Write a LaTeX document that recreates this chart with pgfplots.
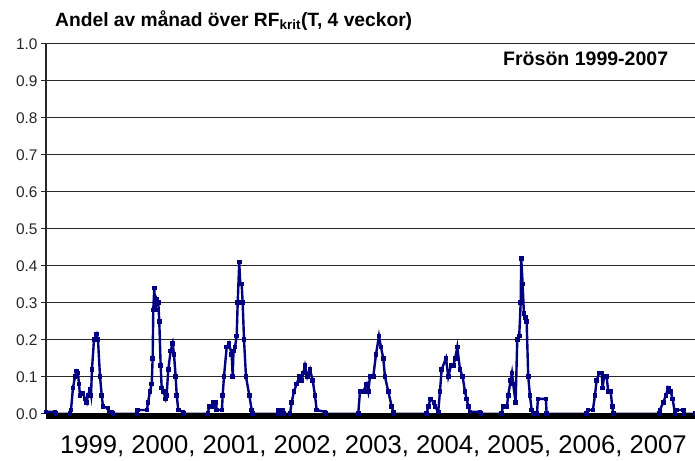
\documentclass[border=0pt]{standalone}
\usepackage{fontspec}
\setmainfont{Liberation Sans}
\usepackage{pgfplots}
\pgfplotsset{compat=1.18}
\definecolor{navyline}{RGB}{0,0,128}
\definecolor{gridgray}{RGB}{40,40,40}

\begin{document}
\begin{tikzpicture}
\begin{axis}[
    scale only axis,
    width=649bp, height=370bp,
    xmin=0, xmax=108,
    ymin=0, ymax=1,
    axis x line=none,
    axis y line*=left,
    y axis line style={gridgray, line width=1.3bp},
    ytick={0,0.1,0.2,0.3,0.4,0.5,0.6,0.7,0.8,0.9,1.0},
    ymajorgrids,
    major grid style={gridgray, line width=0.9bp},
    tick align=outside,
    major tick length=5bp,
    ytick style={gridgray, line width=0.9bp},
    yticklabel style={font=\fontsize{15.5}{18}\selectfont, text=black!85,
        /pgf/number format/fixed, /pgf/number format/fixed zerofill,
        /pgf/number format/precision=1},
    /pgf/number format/assume math mode=true,
    clip=false,
]
% share of month above RF_krit, x in months from Jan 1999
\addplot[navyline, line width=2.4bp, mark=square*, mark size=1.1bp,
    mark options={navyline}] coordinates {
    (0,0.005) (1.5,0.005) (1.66,0) (4.0,0) (4.16,0.01) (4.49,0.07) (4.83,0.10)
    (5.07,0.115) (5.32,0.11) (5.49,0.08) (5.66,0.05) (6.16,0.055) (6.49,0.04)
    (6.77,0.03) (6.99,0.05) (7.32,0.065) (7.49,0.05) (7.65,0.12) (7.99,0.20)
    (8.44,0.215) (8.65,0.20) (8.99,0.10) (9.27,0.05) (9.48,0.02) (10.32,0.015)
    (10.48,0.005) (10.98,0.005) (11.15,0)
    (15.14,0) (15.22,0.01) (16.8,0.01) (16.97,0.03) (17.3,0.06) (17.59,0.08)
    (17.75,0.15) (17.85,0.28) (18.02,0.34) (18.19,0.28) (18.42,0.31) (18.69,0.30)
    (18.85,0.25) (19.08,0.13) (19.25,0.07) (19.52,0.06) (19.92,0.04) (20.08,0.05)
    (20.35,0.12) (20.75,0.17) (21.08,0.19) (21.3,0.16) (21.58,0.10) (21.75,0.05)
    (22.01,0.01) (22.8,0.005) (22.96,0)
    (26.96,0) (27.12,0.02) (27.79,0.02) (27.87,0.03) (28.29,0.03) (28.4,0.01)
    (29.28,0.01) (29.4,0.05) (29.62,0.10) (30.07,0.18) (30.45,0.19) (30.9,0.16)
    (31.07,0.10) (31.2,0.17) (31.45,0.18) (31.73,0.21) (31.9,0.30) (32.16,0.41)
    (32.33,0.35) (32.56,0.35) (32.73,0.30) (32.95,0.20) (33.28,0.10) (33.83,0.05)
    (34.23,0.01) (34.33,0)
    (38.65,0) (38.69,0.01) (39.43,0.01) (39.52,0) (40.6,0) (40.88,0.03)
    (41.26,0.06) (41.71,0.08) (42.15,0.10) (42.55,0.09) (42.81,0.11) (43.09,0.13)
    (43.48,0.10) (43.93,0.12) (44.38,0.09) (44.76,0.05) (45.04,0.01) (46.42,0.005)
    (46.59,0)
    (51.96,0) (52.25,0.06) (52.8,0.06) (53.36,0.08) (53.63,0.06) (53.91,0.10)
    (54.46,0.10) (54.91,0.16) (55.41,0.21) (55.74,0.18) (56.12,0.15) (56.41,0.10)
    (56.96,0.06) (57.52,0.02) (57.79,0.005) (57.9,0)
    (63.34,0) (63.61,0.02) (64.01,0.04) (64.56,0.03) (64.73,0.02) (65.27,0.005)
    (65.56,0.06) (65.84,0.12) (66.56,0.15) (66.94,0.10) (67.39,0.13) (67.77,0.13)
    (68.1,0.15) (68.44,0.18) (68.89,0.12) (69.33,0.10) (69.72,0.06) (70.0,0.04)
    (70.27,0.02) (70.55,0.005) (72.21,0.005) (72.38,0)
    (75.82,0) (76.04,0.02) (76.71,0.02) (76.92,0.05) (77.32,0.09) (77.54,0.11)
    (77.75,0.08) (78.15,0.03) (78.42,0.20) (78.75,0.21) (78.99,0.30) (79.08,0.42)
    (79.32,0.35) (79.53,0.27) (79.75,0.26) (79.98,0.25) (80.25,0.10) (80.53,0.05)
    (80.82,0.01) (81.03,0) (81.7,0) (81.86,0.04) (83.19,0.04) (83.31,0)
    (89.97,0) (90.18,0.01) (91.01,0.01) (91.35,0.05) (91.63,0.09) (92.06,0.11)
    (92.46,0.11) (92.63,0.07) (92.85,0.10) (93.29,0.10) (93.56,0.06) (93.96,0.06)
    (94.23,0.02) (94.39,0)
    (102.05,0) (102.16,0.01) (102.71,0.03) (103.16,0.05) (103.54,0.07)
    (103.94,0.06) (104.28,0.04) (104.66,0) (104.94,0.01) (106.04,0.01)
    (106.16,0) (108,0)
};
% thick black base bar
\addplot[black, line width=5.5bp, no marks] coordinates {(0,-0.0065) (108,-0.0065)};

\coordinate (ll) at (rel axis cs:0,0);
\coordinate (ur) at (rel axis cs:1,1);
\node[anchor=base west, inner sep=0pt, xshift=9bp, yshift=17.3bp,
    font=\bfseries\fontsize{19.3}{21}\selectfont] at (rel axis cs:0,1)
    {Andel av månad över RF\textsubscript{krit}(T, 4 veckor)};
\node[anchor=base west, inner sep=0pt, xshift=457bp, yshift=-22.3bp,
    font=\bfseries\fontsize{19.6}{22}\selectfont] at (rel axis cs:0,1)
    {Frösön 1999-2007};
\node[anchor=base west, inner sep=0pt, xshift=14bp, yshift=-39.6bp,
    font=\fontsize{25.7}{28}\selectfont] at (rel axis cs:0,0)
    {1999, 2000, 2001, 2002, 2003, 2004, 2005, 2006, 2007};
\end{axis}
\pgfresetboundingbox
\path ([shift={(-46bp,-47.3bp)}]ll) rectangle ([shift={(0bp,43.7bp)}]ur);
\end{tikzpicture}
\end{document}
